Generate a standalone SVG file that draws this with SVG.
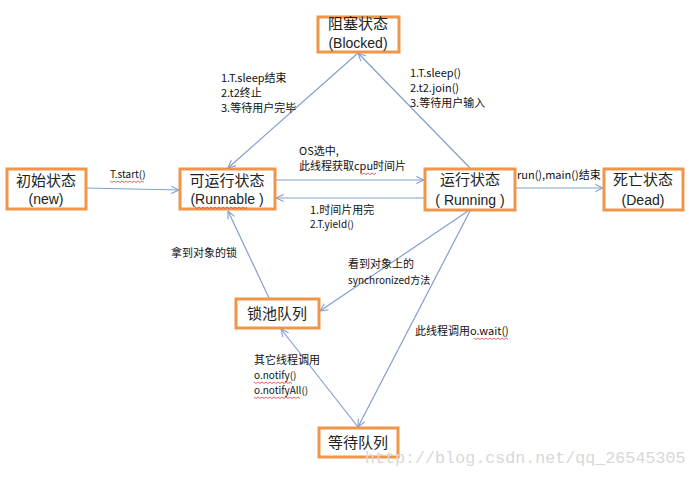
<svg xmlns="http://www.w3.org/2000/svg" width="696" height="477" viewBox="0 0 696 477">
<style>
.box{fill:#fff;stroke:#f0964a;stroke-width:3}
.nt{font-family:"Noto Sans CJK SC","Noto Sans",sans-serif;font-size:15px;fill:#222;text-anchor:middle}
.nl{font-family:"Liberation Sans","Noto Sans",sans-serif;font-size:14px;fill:#222;text-anchor:middle}
.lb{font-family:"Noto Sans CJK SC","Noto Sans",sans-serif;font-size:11px;fill:#111}
.sm{font-size:10px}
.ln{fill:none;stroke:#7f9fcf;stroke-width:1.2;marker-end:url(#ah)}
.sq{fill:none;stroke:#e04040;stroke-width:0.8}
.wm{font-family:"Liberation Mono",monospace;font-size:16.7px;fill:#d8d8d8}
</style>
<defs>
<marker id="ah" viewBox="0 0 10 10" refX="9.5" refY="5" markerWidth="9" markerHeight="9" markerUnits="userSpaceOnUse" orient="auto">
<path d="M1,1 L9.5,5 L1,9" fill="none" stroke="#7f9fcf" stroke-width="1.2"/>
</marker>
</defs>
<rect width="696" height="477" fill="#fff"/>
<g id="connectors">
<path class="ln" d="M358,53 L228,168"/>
<path class="ln" d="M470,168 L358,53"/>
<path class="ln" d="M86,188 L179,190"/>
<path class="ln" d="M276,180 L424,180"/>
<path class="ln" d="M424,198 L276,198"/>
<path class="ln" d="M516,188 L603,188"/>
<path class="ln" d="M468,211 L320,311"/>
<path class="ln" d="M269,298 L228,211"/>
<path class="ln" d="M470,211 L358,427"/>
<path class="ln" d="M358,427 L281,329"/>
</g>
<g id="blocked"><rect class="box" x="318" y="17" width="81" height="35"/><text class="nt" x="358" y="29">阻塞状态</text><text class="nl" x="358" y="48">(Blocked)</text></g>
<g id="new"><rect class="box" x="7" y="169" width="79" height="40"/><text class="nt" x="46" y="186">初始状态</text><text class="nl" x="46" y="204">(new)</text></g>
<g id="runnable"><rect class="box" x="180" y="169" width="95" height="40"/><text class="nt" x="227" y="186">可运行状态</text><text class="nl" x="227" y="204">(Runnable )</text></g>
<g id="running"><rect class="box" x="425" y="169" width="90" height="41"/><text class="nt" x="470" y="185">运行状态</text><text class="nl" x="470" y="205">( Running )</text></g>
<g id="dead"><rect class="box" x="604" y="169" width="79" height="41"/><text class="nt" x="643" y="185">死亡状态</text><text class="nl" x="643" y="205">(Dead)</text></g>
<g id="lockpool"><rect class="box" x="236" y="299" width="83" height="29"/><text class="nt" x="277" y="319">锁池队列</text></g>
<g id="waitqueue"><rect class="box" x="319" y="428" width="79" height="29"/><text class="nt" x="358" y="448">等待队列</text></g>
<g id="labels">
<text class="lb" x="221" y="82">1.T.sleep结束</text>
<text class="lb" x="221" y="97">2.t2终止</text>
<text class="lb" x="221" y="112">3.等待用户完毕</text>
<text class="lb" x="410" y="77">1.T.sleep()</text>
<text class="lb" x="410" y="92">2.t2.join()</text>
<text class="lb" x="410" y="107">3.等待用户输入</text>
<text class="lb" x="299" y="155">OS选中,</text>
<text class="lb" x="299" y="170">此线程获取cpu时间片</text>
<text class="lb sm" x="110" y="178">T.start()</text>
<text class="lb" x="517" y="179">run(),main()结束</text>
<text class="lb" x="310" y="214">1.时间片用完</text>
<text class="lb sm" x="310" y="228">2.T.yield()</text>
<text class="lb" x="171" y="257">拿到对象的锁</text>
<text class="lb" x="348" y="268">看到对象上的</text>
<text class="lb sm" x="348" y="284">synchronized方法</text>
<text class="lb" x="415" y="335">此线程调用o.wait()</text>
<text class="lb" x="254" y="364">其它线程调用</text>
<text class="lb sm" x="254" y="379">o.notify()</text>
<text class="lb sm" x="254" y="394">o.notifyAll()</text>
</g>
<g id="spellcheck">
<path class="sq" d="M110,181 l2,1.5 l2,-1.5 l2,1.5 l2,-1.5 l2,1.5 l2,-1.5 l2,1.5 l2,-1.5 l2,1.5 l2,-1.5 l2,1.5 l2,-1.5 l2,1.5 l2,-1.5 l2,1.5 l2,-1.5 l2,1.5"/>
<path class="sq" d="M360,173 l2,1.5 l2,-1.5 l2,1.5 l2,-1.5 l2,1.5 l2,-1.5 l2,1.5 l2,-1.5"/>
<path class="sq" d="M195,207 l2,1.5 l2,-1.5 l2,1.5 l2,-1.5 l2,1.5 l2,-1.5 l2,1.5 l2,-1.5 l2,1.5 l2,-1.5 l2,1.5 l2,-1.5 l2,1.5 l2,-1.5 l2,1.5 l2,-1.5 l2,1.5 l2,-1.5 l2,1.5 l2,-1.5 l2,1.5 l2,-1.5 l2,1.5 l2,-1.5 l2,1.5 l2,-1.5"/>
<path class="sq" d="M474,338 l2,1.5 l2,-1.5 l2,1.5 l2,-1.5 l2,1.5 l2,-1.5 l2,1.5 l2,-1.5 l2,1.5 l2,-1.5 l2,1.5 l2,-1.5 l2,1.5 l2,-1.5 l2,1.5 l2,-1.5 l2,1.5"/>
<path class="sq" d="M254,382 l2,1.5 l2,-1.5 l2,1.5 l2,-1.5 l2,1.5 l2,-1.5 l2,1.5 l2,-1.5 l2,1.5 l2,-1.5 l2,1.5 l2,-1.5 l2,1.5 l2,-1.5 l2,1.5 l2,-1.5 l2,1.5 l2,-1.5 l2,1.5"/>
<path class="sq" d="M254,397 l2,1.5 l2,-1.5 l2,1.5 l2,-1.5 l2,1.5 l2,-1.5 l2,1.5 l2,-1.5 l2,1.5 l2,-1.5 l2,1.5 l2,-1.5 l2,1.5 l2,-1.5 l2,1.5 l2,-1.5 l2,1.5 l2,-1.5 l2,1.5 l2,-1.5 l2,1.5 l2,-1.5 l2,1.5"/>
</g>
<text class="wm" x="365" y="463">http://blog.csdn.net/qq_26545305</text>
</svg>
